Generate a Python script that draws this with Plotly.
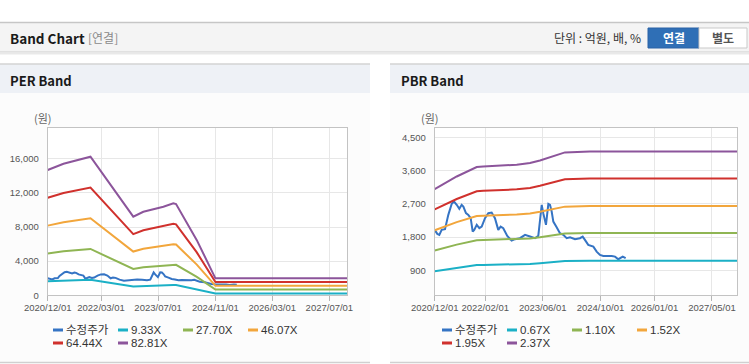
import plotly.graph_objects as go

W, H = 749, 364

# ---------------- data ----------------
price_dates = [
    "2020-12-01", "2020-12-23", "2021-01-09", "2021-01-29", "2021-02-26", "2021-03-12",
    "2021-03-26", "2021-04-24", "2021-05-13", "2021-06-05", "2021-06-27", "2021-07-17",
    "2021-07-31", "2021-08-22", "2021-09-11", "2021-10-01", "2021-10-18", "2021-10-31",
    "2021-11-21", "2021-12-13", "2022-01-02", "2022-01-30", "2022-02-27", "2022-03-27",
    "2022-04-24", "2022-05-22", "2022-06-11", "2022-07-03", "2022-08-06", "2022-09-12",
    "2022-10-10", "2022-11-21", "2023-01-03", "2023-02-14", "2023-03-28", "2023-04-25",
    "2023-05-24", "2023-06-06", "2023-06-29", "2023-07-19", "2023-08-02", "2023-08-16",
    "2023-08-30", "2023-09-27", "2023-10-25", "2023-11-22", "2023-12-21", "2024-01-18",
    "2024-02-29", "2024-04-11", "2024-05-04", "2024-05-23", "2024-06-20", "2024-08-02",
    "2024-08-30", "2024-09-27", "2024-10-25", "2025-01-04", "2025-02-01", "2025-03-01",
    "2025-03-21", "2025-04-07", "2025-05-02",
]
price_values = [
    1995, 1887, 1860, 1995, 2014, 2266,
    2401, 2699, 2761, 2672, 2564, 2672,
    2626, 2447, 2401, 2312, 1949, 1995,
    2130, 2041, 2084, 2312, 2447, 2463,
    2312, 1995, 2084, 2041, 1833, 1705,
    1743, 1770, 1860, 1814, 1770, 1833,
    2672, 2447, 2130, 2699, 2672, 2491,
    2220, 2068, 1906, 1860, 1770, 1797,
    1743, 1770, 1814, 1724, 1589, 1543,
    1408, 1318, 1291, 1291, 1272, 1202,
    1245, 1272, 1229,
]

per_dates = ["2020-12-01", "2021-04-15", "2021-12-01", "2022-12-01", "2023-02-25", "2023-08-15",
             "2023-11-08", "2023-12-01", "2024-05-26", "2024-11-01", "2027-12-01"]
per_9_33x = [1653, 1735, 1829, 1037, 1103, 1169, 1214, 1205, 728, 224, 224]
per_27_70x = [4908, 5152, 5429, 3080, 3274, 3471, 3604, 3576, 2161, 665, 665]
per_46_07x = [8164, 8569, 9030, 5123, 5446, 5773, 5994, 5948, 3594, 1106, 1106]
per_64_44x = [11419, 11986, 12630, 7166, 7617, 8074, 8384, 8319, 5026, 1547, 1547]
per_82_81x = [14674, 15403, 16231, 9209, 9788, 10376, 10774, 10691, 6459, 1987, 1987]
per_labels = ["9.33X", "27.70X", "46.07X", "64.44X", "82.81X"]

pbr_dates = ["2020-12-01", "2021-06-05", "2021-11-21", "2022-01-15", "2022-10-25", "2023-02-14",
             "2023-05-09", "2023-08-02", "2023-12-06", "2024-07-04", "2027-12-01"]
pbr_0_67x = [876, 972, 1044, 1049, 1062, 1074, 1094, 1120, 1156, 1163, 1163]
pbr_1_10x = [1438, 1596, 1714, 1722, 1743, 1764, 1797, 1839, 1898, 1910, 1910]
pbr_1_52x = [1986, 2205, 2368, 2379, 2408, 2437, 2483, 2542, 2623, 2639, 2639]
pbr_1_95x = [2548, 2829, 3038, 3052, 3090, 3127, 3185, 3261, 3364, 3386, 3386]
pbr_2_37x = [3097, 3438, 3692, 3709, 3755, 3800, 3871, 3963, 4089, 4115, 4115]
pbr_labels = ["0.67X", "1.10X", "1.52X", "1.95X", "2.37X"]

price_label = "수정주가"

per_tick_dates = ["2020-12-01", "2022-03-01", "2023-07-01", "2024-11-01", "2026-03-01", "2027-07-01"]
per_tick_text = ["2020/12/01", "2022/03/01", "2023/07/01", "2024/11/01", "2026/03/01", "2027/07/01"]
pbr_tick_dates = ["2020-12-01", "2022-02-01", "2023-06-01", "2024-10-01", "2026-01-01", "2027-05-01"]
pbr_tick_text = ["2020/12/01", "2022/02/01", "2023/06/01", "2024/10/01", "2026/01/01", "2027/05/01"]
per_y_ticks = [0, 4000, 8000, 12000, 16000]
pbr_y_ticks = [900, 1800, 2700, 3600, 4500]

# ---------------- style ----------------
C_PRICE = "#3574c4"
BAND_COLORS = ["#1bb0c6", "#8fb553", "#f2a63c", "#d0312d", "#8c559b"]
TICK_FONT = "Liberation Sans, Arial, sans-serif"
TEXT_FONT = "Liberation Sans, Noto Sans CJK KR"
KR_FONT = "Noto Sans CJK KR"


def px(x):
    return x / W


def py(y):
    return 1 - y / H


fig = go.Figure()

# PER panel traces
fig.add_trace(go.Scatter(x=price_dates, y=price_values, mode="lines", name=price_label,
                         line=dict(color=C_PRICE, width=2), xaxis="x", yaxis="y"))
for vals, lab, col in zip([per_9_33x, per_27_70x, per_46_07x, per_64_44x, per_82_81x], per_labels, BAND_COLORS):
    fig.add_trace(go.Scatter(x=per_dates, y=vals, mode="lines", name=lab,
                             line=dict(color=col, width=2), xaxis="x", yaxis="y"))

# PBR panel traces
fig.add_trace(go.Scatter(x=price_dates, y=price_values, mode="lines", name=price_label,
                         line=dict(color=C_PRICE, width=2), xaxis="x2", yaxis="y2"))
for vals, lab, col in zip([pbr_0_67x, pbr_1_10x, pbr_1_52x, pbr_1_95x, pbr_2_37x], pbr_labels, BAND_COLORS):
    fig.add_trace(go.Scatter(x=pbr_dates, y=vals, mode="lines", name=lab,
                             line=dict(color=col, width=2), xaxis="x2", yaxis="y2"))

GRID = "#e7e7e7"
AXLINE = "#c3c3c3"


def xaxis_cfg(l, r, tv, tt, anchor):
    return dict(domain=[px(l), px(r)], type="date", range=["2020-12-01", "2027-12-01"],
                tickvals=tv, ticktext=tt, tickangle=0, automargin=False,
                showgrid=True, gridcolor=GRID, gridwidth=1,
                showline=True, linecolor=AXLINE, linewidth=1, mirror=True,
                ticks="outside", ticklen=5, tickcolor="#b5b5b5", ticklabelstandoff=-2,
                tickfont=dict(family=TICK_FONT, size=9.5, color="#555"),
                zeroline=False, anchor=anchor, fixedrange=True)


def yaxis_cfg(rng, tv, anchor):
    return dict(domain=[py(295.3), py(128)], range=rng, tickvals=tv, automargin=False,
                ticktext=[f"{v:,}" for v in tv], showgrid=True, gridcolor=GRID,
                showline=True, linecolor=AXLINE, linewidth=1, mirror=True, ticks="",
                ticklabelstandoff=6,
                tickfont=dict(family=TICK_FONT, size=9.5, color="#555"),
                zeroline=False, anchor=anchor, fixedrange=True)


shapes = []
# header bar
shapes.append(dict(type="rect", xref="paper", yref="paper", x0=0, x1=1, y0=py(52), y1=py(22),
                   fillcolor="#f4f4f4", line=dict(width=0), layer="below"))
shapes.append(dict(type="line", xref="paper", yref="paper", x0=0, x1=1, y0=py(22.5), y1=py(22.5),
                   line=dict(color="#c6c6c6", width=1.5)))
shapes.append(dict(type="line", xref="paper", yref="paper", x0=0, x1=1, y0=py(52), y1=py(52),
                   line=dict(color="#cfcfcf", width=1)))
shapes.append(dict(type="line", xref="paper", yref="paper", x0=0, x1=1, y0=py(53.5), y1=py(53.5),
                   line=dict(color="#e9e9e9", width=2)))
# buttons
shapes.append(dict(type="rect", xref="paper", yref="paper", x0=px(648), x1=px(699), y0=py(48), y1=py(28),
                   fillcolor="#2f6fb6", line=dict(color="#2a63a6", width=1)))
shapes.append(dict(type="rect", xref="paper", yref="paper", x0=px(699), x1=px(747), y0=py(48), y1=py(28),
                   fillcolor="#ffffff", line=dict(color="#c9c9c9", width=1)))
# panels
for l, r in [(0, 370), (390, 749)]:
    shapes.append(dict(type="rect", xref="paper", yref="paper", x0=px(l), x1=px(r), y0=py(93), y1=py(64),
                       fillcolor="#eef1f6", line=dict(width=0), layer="below"))
    shapes.append(dict(type="line", xref="paper", yref="paper", x0=px(l), x1=px(r), y0=py(64), y1=py(64),
                       line=dict(color="#d3d3d3", width=1.5)))
    shapes.append(dict(type="rect", xref="paper", yref="paper", x0=px(l), x1=px(r), y0=py(362), y1=py(93),
                       fillcolor="#fcfcfc", line=dict(width=0), layer="below"))
    shapes.append(dict(type="line", xref="paper", yref="paper", x0=px(l), x1=px(r), y0=py(362.5), y1=py(362.5),
                       line=dict(color="#d0d0d0", width=1.5)))
# plot backgrounds
for l, r in [(47.7, 347.3), (434.7, 737.3)]:
    shapes.append(dict(type="rect", xref="paper", yref="paper", x0=px(l), x1=px(r), y0=py(295.3), y1=py(128),
                       fillcolor="#ffffff", line=dict(width=0), layer="below"))

annotations = []


def txt(x, y, text, size, color, family=KR_FONT, xanchor="left"):
    annotations.append(dict(x=px(x), y=py(y), xref="paper", yref="paper", text=text, showarrow=False,
                            xanchor=xanchor, yanchor="middle",
                            font=dict(family=family, size=size, color=color)))


txt(8, 38, "<b>Band Chart</b>", 13.5, "#1a1a1a")
txt(86, 38, "[연결]", 12, "#8a8a8a")
txt(643, 38, "단위 : 억원, 배, %", 12, "#333", xanchor="right")
txt(673.5, 38, "<b>연결</b>", 12, "#ffffff", xanchor="center")
txt(723, 38, "<b>별도</b>", 12, "#555", xanchor="center")
txt(8, 80, "<b>PER Band</b>", 13, "#1a1a1a")
txt(399, 80, "<b>PBR Band</b>", 13, "#1a1a1a")
txt(43, 118, "(원)", 11, "#666", xanchor="center")
txt(430, 118, "(원)", 11, "#666", xanchor="center")

# legends (symbol + label)
legend_rows = [330, 343]


def legend(x0, labels, colors):
    for i, (lab, col) in enumerate(zip(labels, colors)):
        row, colpos = divmod(i, 4)
        x = x0 + colpos * 65
        y = legend_rows[row]
        shapes.append(dict(type="line", xref="paper", yref="paper", x0=px(x), x1=px(x + 10),
                           y0=py(y), y1=py(y), line=dict(color=col, width=3)))
        txt(x + 11, y, lab, 11.5, "#333", family=TEXT_FONT)


legend(53, [price_label] + per_labels, [C_PRICE] + BAND_COLORS)
legend(442, [price_label] + pbr_labels, [C_PRICE] + BAND_COLORS)

fig.update_layout(
    width=W, height=H, margin=dict(l=0, r=0, t=0, b=0, autoexpand=False),
    paper_bgcolor="#ffffff", plot_bgcolor="rgba(0,0,0,0)",
    showlegend=False,
    xaxis=xaxis_cfg(47.7, 347.3, per_tick_dates, per_tick_text, "y"),
    yaxis=yaxis_cfg([0, 19600], per_y_ticks, "x"),
    xaxis2=xaxis_cfg(434.7, 737.3, pbr_tick_dates, pbr_tick_text, "y2"),
    yaxis2=yaxis_cfg([227, 4748], pbr_y_ticks, "x2"),
    shapes=shapes, annotations=annotations,
    hovermode=False,
)

fig.write_html("out.html", config={"displayModeBar": False},
               post_script="document.body.style.margin='0';document.body.style.overflow='hidden';")
